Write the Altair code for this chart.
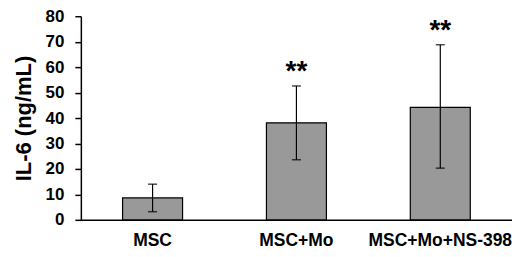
import altair as alt
import pandas as pd

groups = ["MSC", "MSC+Mo", "MSC+Mo+NS-398"]
means = [8.6, 38.1, 44.2]
err_low = [3.2, 23.6, 20.3]
err_high = [14.0, 52.6, 68.8]
stars = ["", "**", "**"]

df = pd.DataFrame({"group": groups, "mean": means, "lo": err_low, "hi": err_high, "star": stars})

x = alt.X("group:N", sort=groups, title=None,
          scale=alt.Scale(paddingInner=0.583, paddingOuter=0.29),
          axis=alt.Axis(labelAngle=0, ticks=False, labelPadding=12))
yaxis = alt.Axis(values=list(range(0, 81, 10)), grid=False, tickSize=6, labelOverlap=False,
                 labelPadding=11, titlePadding=10)
yscale = alt.Scale(domain=[0, 80], nice=False)
title = "IL-6 (ng/mL)"

base = alt.Chart(df)
bars = base.mark_bar(color="#999999", stroke="black", strokeWidth=1.2).encode(
    x=x, y=alt.Y("mean:Q", title=title, scale=yscale, axis=yaxis))
rule = base.mark_rule(color="black", strokeWidth=1.2).encode(
    x=x, y=alt.Y("lo:Q", title=title, scale=yscale, axis=yaxis), y2="hi:Q")
cap_hi = base.mark_tick(color="black", size=9, thickness=1.5).encode(
    x=x, y=alt.Y("hi:Q", title=title, scale=yscale, axis=yaxis))
cap_lo = base.mark_tick(color="black", size=9, thickness=1.5).encode(
    x=x, y=alt.Y("lo:Q", title=title, scale=yscale, axis=yaxis))
txt = base.mark_text(font="Liberation Sans", fontWeight="bold", fontSize=28, dy=0, baseline="bottom",
                     color="black").encode(
    x=x, y=alt.Y("hi:Q", title=title, scale=yscale, axis=yaxis), text="star:N")

chart = (bars + rule + cap_hi + cap_lo + txt).properties(
    width=432, height=204,
    autosize=alt.AutoSizeParams(type="none"),
    padding={"left": 73, "top": 8, "right": 0, "bottom": 30},
).configure_view(stroke=None).configure_axis(
    domainColor="black", domainWidth=1.5, tickColor="black", tickWidth=1.5,
    labelFont="Liberation Sans", labelFontWeight="bold", labelColor="black",
    titleFont="Liberation Sans", titleFontWeight="bold", titleColor="black", titleFontSize=22,
).configure_axisY(labelFontSize=17).configure_axisX(labelFontSize=17.5)

chart.save("out.html", embed_options={"renderer": "svg", "actions": False})
